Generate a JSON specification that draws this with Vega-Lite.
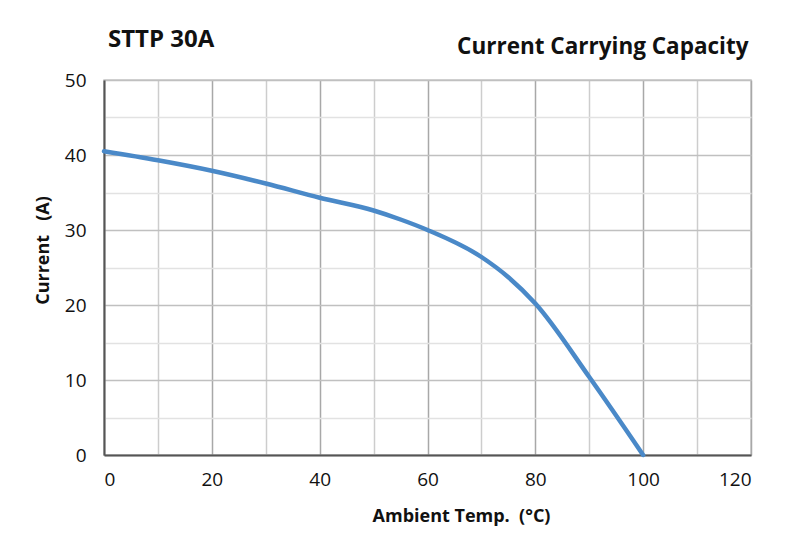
{
  "$schema": "https://vega.github.io/schema/vega-lite/v6.json",
  "width": 647,
  "height": 375,
  "autosize": "none",
  "padding": {"left": 104, "top": 80, "right": 39, "bottom": 101},
  "background": "white",
  "config": {
    "font": "Open Sans",
    "view": {"stroke": "#c8c8c8", "strokeWidth": 1.5}
  },
  "title": {
    "text": "STTP 30A",
    "anchor": "start",
    "frame": "group",
    "dx": 4,
    "offset": -17,
    "fontSize": 24,
    "fontWeight": "bold",
    "color": "#111111",
    "font": "Open Sans"
  },
  "data": {
    "values": [
      {"temp": 0, "current": 40.5},
      {"temp": 10, "current": 39.3},
      {"temp": 20, "current": 37.9},
      {"temp": 30, "current": 36.2},
      {"temp": 40, "current": 34.3},
      {"temp": 50, "current": 32.6},
      {"temp": 55, "current": 31.4},
      {"temp": 60, "current": 30.0},
      {"temp": 70, "current": 26.4},
      {"temp": 75, "current": 23.7},
      {"temp": 80, "current": 20.2},
      {"temp": 90, "current": 10.4},
      {"temp": 100, "current": 0}
    ]
  },
  "resolve": {"axis": {"x": "independent"}},
  "layer": [
    {
      "mark": {"type": "line", "interpolate": "monotone", "color": "#4a89c8", "strokeWidth": 4.5, "strokeCap": "round"},
      "encoding": {
        "x": {
          "field": "temp",
          "type": "quantitative",
          "scale": {"domain": [0, 120], "nice": false, "zero": true},
          "axis": {
            "title": "Ambient Temp.\u00a0\u00a0(°C)",
            "titleFontSize": 18,
            "titleFontWeight": "bold",
            "titleColor": "#111111",
            "titleX": 357,
            "titleY": 52,
            "titleAlign": "center",
            "values": [0, 10, 20, 30, 40, 50, 60, 70, 80, 90, 100, 110, 120],
            "labelExpr": "datum.value % 20 === 0 ? datum.label : ''",
            "labelFontSize": 19,
            "labelColor": "#111111",
            "labelPadding": 15,
            "ticks": false,
            "domainColor": "#555555",
            "domainWidth": 2,
            "grid": true,
            "gridColor": {"condition": {"test": "datum.value % 20 === 0", "value": "#a8a8a8"}, "value": "#cdcdcd"},
            "gridWidth": 1.5
          }
        },
        "y": {
          "field": "current",
          "type": "quantitative",
          "scale": {"domain": [0, 50], "nice": false},
          "axis": {
            "title": "Current\u00a0\u00a0\u00a0(A)",
            "titleFontSize": 18,
            "titleFontWeight": "bold",
            "titleColor": "#111111",
            "titlePadding": 12,
            "titleY": 170,
            "values": [0, 5, 10, 15, 20, 25, 30, 35, 40, 45, 50],
            "labelExpr": "datum.value % 10 === 0 ? datum.label : ''",
            "labelFontSize": 19,
            "labelColor": "#111111",
            "labelPadding": 18,
            "ticks": false,
            "domainColor": "#555555",
            "domainWidth": 2,
            "grid": true,
            "gridColor": {"condition": {"test": "datum.value % 10 === 0", "value": "#c0c0c0"}, "value": "#e2e2e2"},
            "gridWidth": 1.5
          }
        }
      }
    },
    {
      "mark": {"type": "rule", "opacity": 0},
      "encoding": {
        "x": {
          "datum": 120,
          "type": "quantitative",
          "axis": {
            "orient": "top",
            "title": "Current Carrying Capacity",
            "titleFontSize": 22.5,
            "titleFontWeight": "bold",
            "titleColor": "#111111",
            "titleAnchor": "end",
            "titleAlign": "right",
            "titleX": 644,
            "titlePadding": 22,
            "labels": false,
            "ticks": false,
            "domain": false,
            "grid": false
          }
        }
      }
    }
  ]
}
